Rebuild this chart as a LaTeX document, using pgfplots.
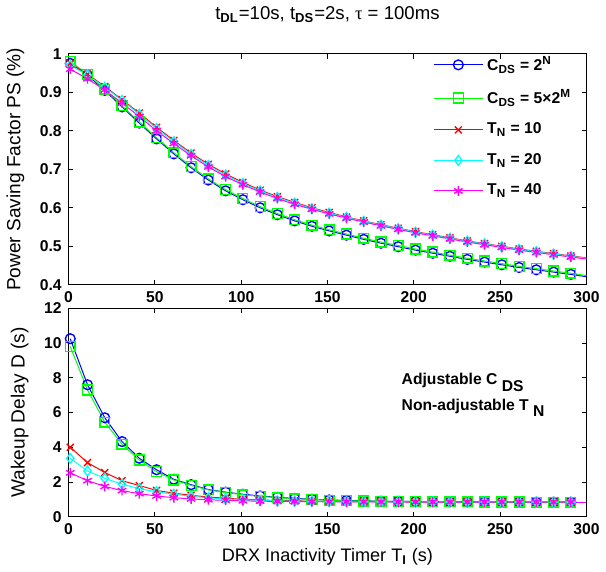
\documentclass[border=0pt]{standalone}
\usepackage{fontspec}
\setmainfont{Liberation Sans}
\newfontfamily\serif{Liberation Serif}
\usepackage{pgfplots}
\usepackage{pgfplotstable}
\pgfplotsset{compat=1.18}

\definecolor{mblue}{rgb}{0,0,1}
\definecolor{mgreen}{rgb}{0,1,0}
\definecolor{mred}{rgb}{1,0,0}
\definecolor{mcyan}{rgb}{0,1,1}
\definecolor{mmagenta}{rgb}{1,0,1}

% power saving factor PS, one column per curve
\pgfplotstableread{
x   a     b     c     d     e
1   0.975 0.980 0.975 0.970 0.960
11  0.944 0.947 0.947 0.945 0.935
21  0.905 0.908 0.915 0.913 0.906
31  0.862 0.865 0.881 0.879 0.872
41  0.820 0.823 0.846 0.843 0.837
51  0.779 0.782 0.809 0.806 0.800
61  0.740 0.743 0.775 0.772 0.767
71  0.704 0.707 0.742 0.739 0.735
81  0.672 0.675 0.713 0.710 0.706
91  0.644 0.647 0.688 0.685 0.681
101 0.621 0.624 0.666 0.663 0.660
111 0.600 0.603 0.646 0.644 0.641
121 0.582 0.585 0.629 0.627 0.624
131 0.566 0.569 0.614 0.612 0.609
141 0.552 0.555 0.600 0.598 0.596
151 0.540 0.543 0.588 0.586 0.584
161 0.529 0.532 0.576 0.575 0.573
171 0.518 0.521 0.566 0.565 0.563
181 0.508 0.511 0.556 0.555 0.553
191 0.499 0.502 0.547 0.546 0.544
201 0.490 0.493 0.538 0.537 0.535
211 0.482 0.485 0.530 0.529 0.527
221 0.474 0.477 0.522 0.521 0.519
231 0.466 0.469 0.514 0.513 0.511
241 0.459 0.462 0.507 0.506 0.504
251 0.452 0.455 0.500 0.499 0.497
261 0.445 0.448 0.493 0.492 0.490
271 0.439 0.442 0.487 0.486 0.484
281 0.433 0.436 0.481 0.480 0.478
291 0.427 0.430 0.475 0.474 0.472
300 0.421 0.424 0.470 0.469 0.467
}\pstable

% wakeup delay D (s)
\pgfplotstableread{
x   a     b     c     d     e
1   10.25 9.80  4.00  3.36  2.53
11  7.60  7.30  3.12  2.64  2.08
21  5.70  5.45  2.55  2.21  1.75
31  4.33  4.18  2.08  1.88  1.51
41  3.37  3.27  1.80  1.62  1.33
51  2.71  2.60  1.52  1.44  1.20
61  2.16  2.12  1.36  1.30  1.10
71  1.85  1.81  1.24  1.18  1.03
81  1.57  1.55  1.14  1.09  0.98
91  1.42  1.40  1.07  1.03  0.95
101 1.30  1.27  1.01  0.98  0.92
111 1.20  1.18  0.97  0.95  0.90
121 1.12  1.10  0.94  0.92  0.89
131 1.06  1.04  0.92  0.90  0.88
141 1.01  1.00  0.90  0.89  0.87
151 0.97  0.96  0.89  0.88  0.865
161 0.94  0.93  0.88  0.87  0.86
171 0.92  0.91  0.875 0.87  0.86
181 0.90  0.90  0.87  0.865 0.855
191 0.89  0.89  0.865 0.86  0.855
201 0.88  0.88  0.86  0.86  0.85
211 0.87  0.87  0.86  0.855 0.85
221 0.865 0.865 0.855 0.855 0.85
231 0.86  0.86  0.855 0.85  0.85
241 0.855 0.855 0.85  0.85  0.845
251 0.85  0.85  0.85  0.85  0.845
261 0.85  0.85  0.845 0.845 0.845
271 0.845 0.845 0.845 0.845 0.84
281 0.845 0.845 0.84  0.84  0.84
291 0.84  0.84  0.84  0.84  0.84
300 0.84  0.84  0.84  0.84  0.84
}\dtable

\pgfplotsset{
  drx/.style={
    scale only axis, width=264.5pt,
    xmin=0, xmax=300, xtick={0,50,...,300},
    tick align=inside, major tick length=2.5pt,
    /pgf/number format/assume math mode=true,
    tick label style={font=\bfseries\fontsize{8}{9}\selectfont},
    label style={font=\fontsize{9.75}{11}\selectfont},
    axis line style={line width=0.5pt},
    every tick/.style={black, line width=0.4pt},
    clip=false,
  },
  sA/.style={mblue, mark=o},
  sB/.style={mgreen, mark=square},
  sC/.style={mred, mark=x},
  sD/.style={mcyan, mark=diamond},
  sE/.style={mmagenta, mark=asterisk},
  every axis plot/.append style={line width=0.5pt, mark size=2.5pt,
    mark options={solid, line width=0.7pt}},
}

% marked curve up to x=291, then a plain segment on to x=300
\newcommand\series[3]{%
  \addplot[#3, restrict x to domain=0:295] table[x=x, y=#2] {#1};
  \addplot[#3, no marks, forget plot, restrict x to domain=290:300] table[x=x, y=#2] {#1};
}

\begin{document}
\begin{tikzpicture}
\begin{axis}[drx, name=top, at={(0,0)}, anchor=south west,
    height=118pt, ymin=0.4, ymax=1, ytick={0.4,0.5,...,1.0},
    ylabel={Power Saving Factor PS (\%)},
    ylabel style={at={(axis description cs:-0.072,0.5)}, anchor=south},
    title={t\textsubscript{\bfseries DL}=10s, t\textsubscript{\bfseries DS}=2s, {\serif τ} = 100ms},
    title style={at={(axis description cs:0.5,1)}, anchor=base, yshift=11.5pt,
      font=\fontsize{9.5}{11}\selectfont},
    legend style={at={(rel axis cs:0.70,1.015)}, anchor=north west, draw=none,
      fill=none, font=\bfseries\fontsize{8}{9}\selectfont,
      cells={anchor=west}, row sep=4.5pt, inner sep=1pt},
    legend image code/.code={\draw[mark repeat=2, mark phase=2, #1]
      plot coordinates {(0pt,0pt) (12.5pt,0pt) (25pt,0pt)};},
  ]
  \series{\pstable}{a}{sA}
  \addlegendentry{C\textsubscript{DS} = 2\textsuperscript{N}}
  \series{\pstable}{b}{sB}
  \addlegendentry{C\textsubscript{DS} = 5×2\textsuperscript{M}}
  \series{\pstable}{c}{sC}
  \addlegendentry{T\textsubscript{N} = 10}
  \series{\pstable}{d}{sD}
  \addlegendentry{T\textsubscript{N} = 20}
  \series{\pstable}{e}{sE}
  \addlegendentry{T\textsubscript{N} = 40}
\end{axis}

\begin{axis}[drx, at={(0,-12pt)}, anchor=north west,
    height=106.5pt, ymin=0, ymax=12, ytick={0,2,...,12},
    ylabel={Wakeup Delay D (s)},
    ylabel style={at={(axis description cs:-0.064,0.5)}, anchor=south},
    xlabel={DRX Inactivity Timer T\textsubscript{\bfseries I} (s)},
    xlabel style={font=\fontsize{9.25}{11}\selectfont},
  ]
  \series{\dtable}{a}{sA}
  \series{\dtable}{b}{sB}
  \series{\dtable}{c}{sC}
  \series{\dtable}{d}{sD}
  \series{\dtable}{e}{sE}
  \node[anchor=base west, font=\bfseries\fontsize{8}{9}\selectfont] at (axis cs:189,7.6)
    {Adjustable C\ \raisebox{-0.8ex}{DS}};
  \node[anchor=base west, font=\bfseries\fontsize{8}{9}\selectfont] at (axis cs:189,6.14)
    {Non-adjustable T\ \raisebox{-0.8ex}{N}};
\end{axis}
\end{tikzpicture}
\end{document}
